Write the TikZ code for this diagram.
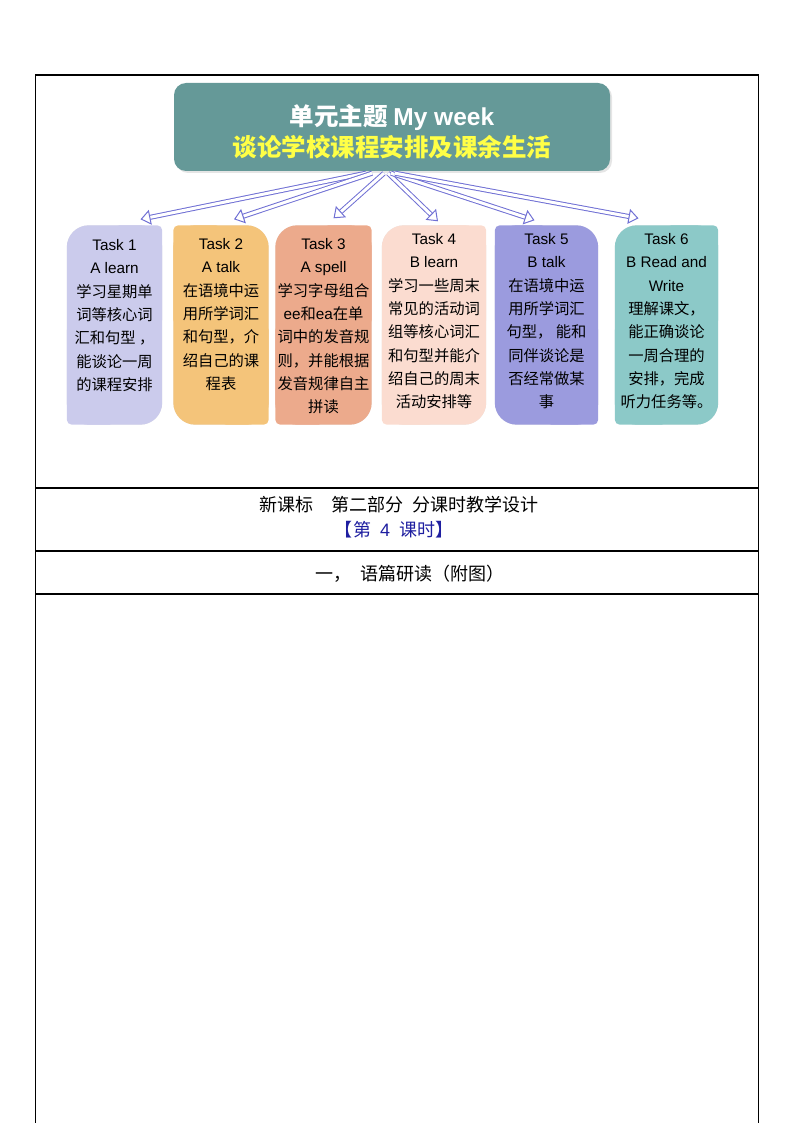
\documentclass[tikz,border=0pt]{standalone}
\usepackage{fontspec}
\setmainfont{Noto Sans CJK SC}
\newfontfamily\lat{Liberation Sans}
\usetikzlibrary{arrows.meta, backgrounds, positioning}

\definecolor{headteal}{RGB}{101,153,152}
\definecolor{titleyellow}{RGB}{255,255,70}
\definecolor{fanblue}{RGB}{112,112,212}
\definecolor{lessonblue}{RGB}{30,30,160}
\definecolor{taskA}{RGB}{203,203,236}
\definecolor{taskB}{RGB}{244,196,122}
\definecolor{taskC}{RGB}{236,170,140}
\definecolor{taskD}{RGB}{251,220,208}
\definecolor{taskE}{RGB}{155,155,222}
\definecolor{taskF}{RGB}{140,201,200}

\tikzstyle{headbox} = [rectangle, rounded corners=12pt, minimum width=436pt, minimum height=88pt, fill=headteal]
\tikzstyle{headtext} = [align=center, font=\fontsize{24.5}{31}\selectfont\bfseries]
\tikzstyle{taskbox} = [rectangle, minimum height=199pt, inner sep=0pt]
\tikzstyle{tasktext} = [align=center, inner sep=0pt, anchor=north, font=\fontsize{15.3}{23.3}\selectfont]
\tikzstyle{tabletext} = [font=\fontsize{18}{22}\selectfont]
\tikzstyle{fan} = [draw=fanblue, double=white, double distance=3pt, line width=1pt, -{Triangle[open, length=10pt, width=15pt]}]
\tikzstyle{rule} = [line width=1.5pt]

% leaf shaped background: two big and two small corners
\newcommand{\leafbox}[4]{%
  \fill[black!10, rounded corners=22pt, shift={(2pt,-3pt)}] (#1.south west) rectangle (#1.north east);
  \fill[#2, rounded corners=22pt] (#1.south west) rectangle (#1.north east);
  \fill[#2, rounded corners=5pt] (#1.center) rectangle (#1.#3);
  \fill[#2, rounded corners=5pt] (#1.center) rectangle (#1.#4);
}

\begin{document}
\begin{tikzpicture}[x=1pt, y=-1pt]
        \useasboundingbox (0,0) rectangle (794,1123);

        % Table
        \draw [rule] (35.5,1123) -- (35.5,75) -- (758.5,75) -- (758.5,1123);
        \draw [rule] (35.5,488) -- (758.5,488);
        \draw [rule] (35.5,551) -- (758.5,551);
        \draw [rule] (35.5,594) -- (758.5,594);

        % Header
        \fill [black!10, rounded corners=12pt] (176,85) rectangle (612,173);
        \node (head) [headbox] at (392,127) {};
        \node (headtxt) [headtext, yshift=-5pt] at (head) {\textcolor{white}{单元主题 {\lat My week}}\\ \textcolor{titleyellow}{谈论学校课程安排及课余生活}};

        % Task boxes
        \node (t1) [taskbox, minimum width=95pt] at (114.5,325) {};
        \node (t2) [taskbox, minimum width=95pt] at (221,325) {};
        \node (t3) [taskbox, minimum width=96pt] at (323.5,325) {};
        \node (t4) [taskbox, minimum width=104pt] at (434,325) {};
        \node (t5) [taskbox, minimum width=103pt] at (546.5,325) {};
        \node (t6) [taskbox, minimum width=103pt] at (666.5,325) {};

        \begin{scope}[on background layer]
            \leafbox{t1}{taskA}{north east}{south west}
            \leafbox{t2}{taskB}{north west}{south east}
            \leafbox{t3}{taskC}{north east}{south west}
            \leafbox{t4}{taskD}{north east}{south west}
            \leafbox{t5}{taskE}{north west}{south east}
            \leafbox{t6}{taskF}{north east}{south west}
        \end{scope}

        % Task texts
        \node (t1txt) [tasktext, below=14pt of t1.north] {{\lat Task 1}\\{\lat A learn}\\学习星期单\\词等核心词\\汇和句型 ，\\能谈论一周\\的课程安排};
        \node (t2txt) [tasktext, below=13pt of t2.north] {{\lat Task 2}\\{\lat A talk}\\在语境中运\\用所学词汇\\和句型，介\\绍自己的课\\程表};
        \node (t3txt) [tasktext, below=13pt of t3.north] {{\lat Task 3}\\{\lat A spell}\\学习字母组合\\{\lat ee}和{\lat ea}在单\\词中的发音规\\则，并能根据\\发音规律自主\\拼读};
        \node (t4txt) [tasktext, below=8pt of t4.north] {{\lat Task 4}\\{\lat B learn}\\学习一些周末\\常见的活动词\\组等核心词汇\\和句型并能介\\绍自己的周末\\活动安排等};
        \node (t5txt) [tasktext, below=8pt of t5.north] {{\lat Task 5}\\{\lat B talk}\\在语境中运\\用所学词汇\\句型， 能和\\同伴谈论是\\否经常做某\\事};
        \node (t6txt) [tasktext, below=8pt of t6.north] {{\lat Task 6}\\{\lat B Read and}\\{\lat Write}\\理解课文，\\能正确谈论\\一周合理的\\安排，完成\\听力任务等。};

        % Arrows
        \draw [fan] ([xshift=-26pt, yshift=-2pt]head.south) -- ([xshift=26pt, yshift=6pt]t1.north);
        \draw [fan] ([xshift=-20pt, yshift=-2pt]head.south) -- ([xshift=13pt, yshift=6pt]t2.north);
        \draw [fan] ([xshift=-8pt, yshift=-2pt]head.south) -- ([xshift=10pt, yshift=7pt]t3.north);
        \draw [fan] ([xshift=-4pt, yshift=-2pt]head.south) -- ([xshift=4pt, yshift=4pt]t4.north);
        \draw [fan] ([xshift=-1pt, yshift=-2pt]head.south) -- ([xshift=-12pt, yshift=5pt]t5.north);
        \draw [fan] ([xshift=3pt, yshift=-2pt]head.south) -- ([xshift=-28pt, yshift=7pt]t6.north);

        % Lesson rows
        \node (part) [tabletext] at (399,505) {新课标\quad 第二部分\enspace 分课时教学设计};
        \node (lesson) [tabletext, text=lessonblue] at (394,530) {【第\enspace{\lat 4}\enspace 课时】};
        \node (reading) [tabletext] at (410,574) {一，\enspace 语篇研读（附图）};

    \end{tikzpicture}
\end{document}
